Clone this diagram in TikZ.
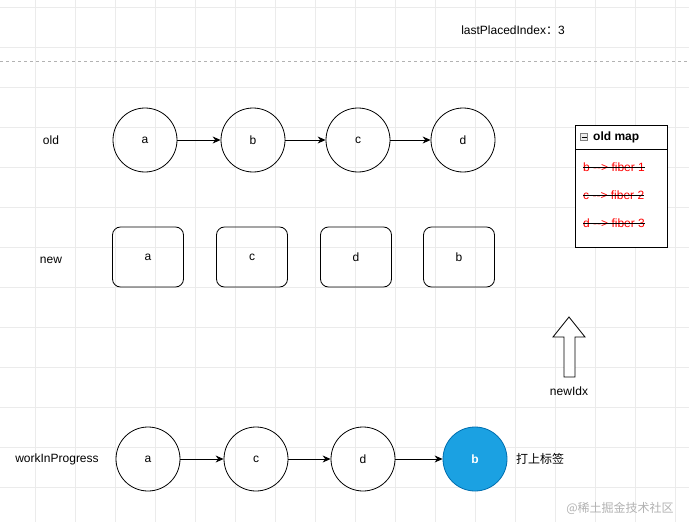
\documentclass[tikz,border=0pt]{standalone}
\usepackage{fontspec}
\setmainfont{Liberation Sans}
\newfontfamily\cjk{Noto Sans CJK SC}
\usetikzlibrary{arrows.meta}
\definecolor{gridc}{HTML}{EBEBEB}
\definecolor{blueb}{HTML}{1BA1E2}
\definecolor{blued}{HTML}{006EAF}
\definecolor{redt}{HTML}{FF0000}
\tikzset{
  circ/.style={draw, circle, minimum size=64pt, inner sep=0pt, line width=0.8pt, font=\fontsize{12}{14}\selectfont},
  rbox/.style={draw, rounded corners=8pt, minimum width=71pt, minimum height=60pt, inner sep=0pt, line width=0.8pt, font=\fontsize{12}{14}\selectfont},
  lbl/.style={font=\fontsize{12}{14}\selectfont, inner sep=0pt},
  conn/.style={-{Stealth[length=8pt,width=7pt]}, line width=0.8pt},
  maptxt/.style={font=\fontsize{12}{14}\selectfont, text=redt, inner sep=0pt, anchor=west},
}
\begin{document}
\begin{tikzpicture}[x=1pt,y=-1pt]
\useasboundingbox (0,0) rectangle (689,522);
\fill[white] (0,0) rectangle (689,522);
% grid
\foreach \gx in {35,75,...,675} \draw[gridc, line width=0.5pt] (\gx,0) -- (\gx,522);
\foreach \gy in {7,47,...,522} \draw[gridc, line width=0.5pt] (0,\gy) -- (689,\gy);
% dashed separator
\draw[gray!60, dashed, line width=0.7pt] (0,61) -- (689,61);
\node[lbl] (lpi) at (513,30) {lastPlacedIndex{\cjk ：}3};
% labels
\node[lbl] (lold) at (51,140) {old};
\node[lbl] (lnew) at (51,260) {new};
\node[lbl] (lwip) at (57,459) {workInProgress};
% old row
\node[circ] (oa) at (145,140) {a};
\node[circ] (ob) at (253,140) {b};
\node[circ] (oc) at (358,140) {c};
\node[circ] (od) at (463,140) {d};
\draw[conn] (oa) -- (ob);
\draw[conn] (ob) -- (oc);
\draw[conn] (oc) -- (od);
% new row
\node[rbox] (na) at (148,257) {a};
\node[rbox] (nc) at (252,257) {c};
\node[rbox] (nd) at (356,257) {d};
\node[rbox] (nb) at (459,257) {b};
% wip row
\node[circ] (wa) at (148,459) {a};
\node[circ] (wc) at (256,459) {c};
\node[circ] (wd) at (363,459) {d};
\node[circ, fill=blueb, draw=blued, text=white, font=\bfseries\fontsize{12}{14}\selectfont] (wb) at (475,459) {b};
\draw[conn] (wa) -- (wc);
\draw[conn] (wc) -- (wd);
\draw[conn] (wd) -- (wb);
\node[lbl] (tag) at (540,459) {\cjk 打上标签};
% old map
\draw[line width=0.8pt, fill=white] (575,125) rectangle (667,247);
\draw[line width=0.8pt] (575,149) -- (667,149);
\node[draw=gray, fill=gray!15, line width=0.5pt, minimum size=7pt, inner sep=0pt] (mbox) at (584,137) {};
\draw[line width=0.7pt] (581.5,137) -- (586.5,137);
\node[lbl, anchor=west, font=\bfseries\fontsize{12}{14}\selectfont] (mtitle) at (593,137) {old map};
\node[maptxt] (m1) at (583,167) {b -{}-> fiber 1};
\node[maptxt] (m2) at (583,195) {c -{}-> fiber 2};
\node[maptxt] (m3) at (583,223) {d -{}-> fiber 3};
\foreach \m in {m1,m2,m3} \draw[line width=0.7pt] (\m.west) -- (\m.east);
% up arrow
\draw[line width=0.8pt, fill=white] (553,337) -- (569,317) -- (585,337) -- (575,337) -- (575,377) -- (564,377) -- (564,337) -- cycle;
\node[lbl] (nidx) at (569,391) {newIdx};
% watermark
\node[lbl, text=gray!60, font=\cjk\fontsize{12}{14}\selectfont] (wm) at (620,508) {@稀土掘金技术社区};
\end{tikzpicture}
\end{document}
